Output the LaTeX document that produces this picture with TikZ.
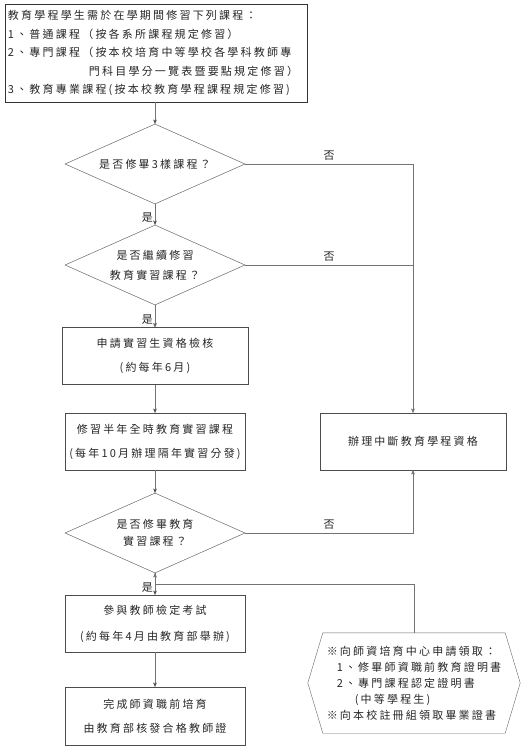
\documentclass[tikz,border=0pt]{standalone}
\usepackage{fontspec}
\newfontfamily\cjk[LetterSpace=20]{Noto Sans CJK TC}
\usetikzlibrary{arrows.meta,positioning,shapes.geometric,calc}

\begin{document}
\begin{tikzpicture}[x=1pt,y=-1pt,node distance=90pt,on grid,>={Stealth[round,length=5pt,width=4pt]},
  every node/.style={font=\cjk\fontsize{11}{16}\selectfont,text=black!85},
  box/.style={draw=black!70,thin,minimum width=180pt,minimum height=57pt,align=center,inner sep=2pt},
  ask/.style={diamond,draw=black!70,thin,aspect=2.25,minimum width=180pt,minimum height=80pt,inner sep=0pt,align=center},
  flow/.style={draw=black!55,thin},
  yes/.style={pos=0.65,left,inner sep=2pt},
  no/.style={above,inner sep=3pt}]
\useasboundingbox (0,0) rectangle (525,749);

\node[draw=black!80,thin,minimum width=302pt,minimum height=98pt,text width=296pt,align=left,inner sep=2pt,
  font=\cjk\fontsize{11}{18.5}\selectfont] (rules) at (156,53)
  {教育學程學生需於在學期間修習下列課程：\\
   1、普通課程（按各系所課程規定修習）\\
   2、專門課程（按本校培育中等學校各學科教師專\\
   \hspace*{81pt}門科目學分一覽表暨要點規定修習）\\
   3、教育專業課程(按本校教育學程課程規定修習)};

\node[ask] (q_all) at (155,164) {是否修畢3樣課程？};
\node[ask,font=\cjk\fontsize{11}{20}\selectfont] (q_cont) [below=101pt of q_all] {是否繼續修習\\教育實習課程？};
\node[box,minimum width=186pt] (apply) [below=91pt of q_cont] {申請實習生資格檢核\\[8pt](約每年6月)};
\node[box] (intern) [below=85.5pt of apply] {修習半年全時教育實習課程\\[8pt](每年10月辦理隔年實習分發)};
\node[ask,font=\cjk\fontsize{11}{17}\selectfont] (q_done) [below=91.5pt of intern] {是否修畢教育\\實習課程？};
\node[box] (exam) [below=90.5pt of q_done] {參與教師檢定考試\\[10pt](約每年4月由教育部舉辦)};
\node[box,minimum height=58pt] (cert_t) [below=92.5pt of exam] {完成師資職前培育\\[8pt]由教育部核發合格教師證};
\node[box,minimum width=186pt] (stop) [right=258pt of intern] {辦理中斷教育學程資格};

\node[minimum width=212pt,minimum height=100pt,align=left,inner sep=0pt] (docs) at (414,683)
  {※向師資培育中心申請領取：\\
   \hspace*{10pt}1、修畢師資職前教育證明書\\
   \hspace*{10pt}2、專門課程認定證明書\\
   \hspace*{28pt}(中等學程生)\\
   ※向本校註冊組領取畢業證書};
\draw[draw=black!60,thin] (docs.west) -- ([xshift=15pt]docs.north west) -- ([xshift=-15pt]docs.north east)
  -- (docs.east) -- ([xshift=-15pt]docs.south east) -- ([xshift=15pt]docs.south west) -- cycle;

\coordinate (split) at ($(q_done.south)!0.5!(exam.north)$);

\path[flow,->] (rules.south -| q_all.north) edge (q_all.north)
  (q_all.south) edge node[yes] {是} (q_cont.north)
  (q_cont.south) edge node[yes] {是} (apply.north)
  (apply) edge (intern)
  (intern) edge (q_done.north)
  (q_done.south) edge node[yes] {是} (exam.north)
  (exam) edge (cert_t);
\draw[flow,->] (q_all.east) -| node[no,pos=0.25] {否} (stop.north);
\draw[flow] (q_cont.east) -- node[no] {否} (q_cont.east -| stop.north);
\draw[flow,->] (q_done.east) -| node[no,pos=0.25] {否} (stop.south);
\draw[flow] (split) -| (docs.north);
\end{tikzpicture}
\end{document}
